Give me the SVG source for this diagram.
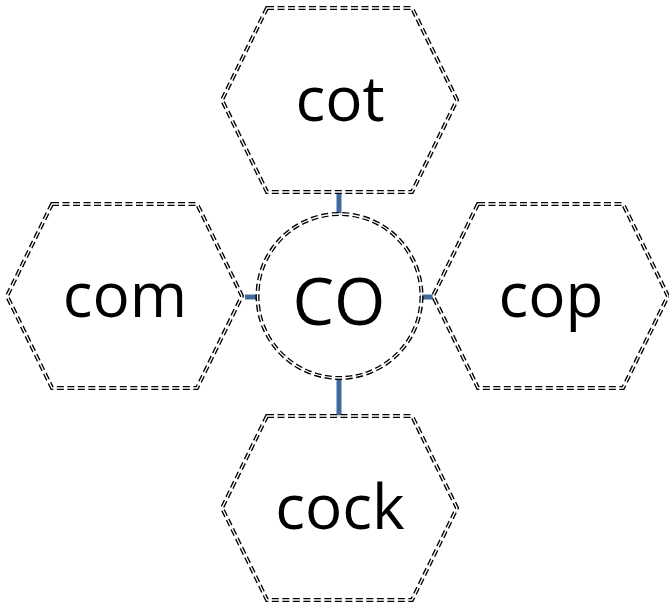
<svg xmlns="http://www.w3.org/2000/svg" width="669" height="610" viewBox="0 0 669 610">
<style>
.o{fill:none;stroke:#000;stroke-width:4;stroke-dasharray:7 3.5}
.i{fill:none;stroke:#fff;stroke-width:1.3}
.t{font-family:"Open Sans","Liberation Sans",sans-serif;font-size:62px;fill:#000;text-anchor:middle}
.c{stroke:#41699D;stroke-width:5;fill:none}
</style>
<defs>
<polygon id="hex" points="-73,-92 72,-92 117,0 72,92 -73,92 -118,0"/>
</defs>
<rect width="669" height="610" fill="#fff"/>
<g id="connectors">
<line class="c" x1="339" y1="193" x2="339" y2="215"/>
<line class="c" x1="339" y1="379" x2="339" y2="417"/>
<line class="c" x1="245" y1="297" x2="258" y2="297"/>
<line class="c" x1="420" y1="297" x2="434" y2="297"/>
</g>
<g id="center">
<circle class="o" cx="339.5" cy="296" r="82"/>
<circle class="i" cx="339.5" cy="296" r="82"/>
<text class="t" x="339" y="325" style="font-size:66px">CO</text>
</g>
<g id="cot" transform="translate(340,100)">
<use href="#hex" class="o"/><use href="#hex" class="i"/>
<text class="t" x="0" y="21">cot</text>
</g>
<g id="com" transform="translate(125,296)">
<use href="#hex" class="o"/><use href="#hex" class="i"/>
<text class="t" x="0" y="21">com</text>
</g>
<g id="cop" transform="translate(551,296)">
<use href="#hex" class="o"/><use href="#hex" class="i"/>
<text class="t" x="0" y="21">cop</text>
</g>
<g id="cock" transform="translate(340,508)">
<use href="#hex" class="o"/><use href="#hex" class="i"/>
<text class="t" x="0" y="21">cock</text>
</g>
</svg>
